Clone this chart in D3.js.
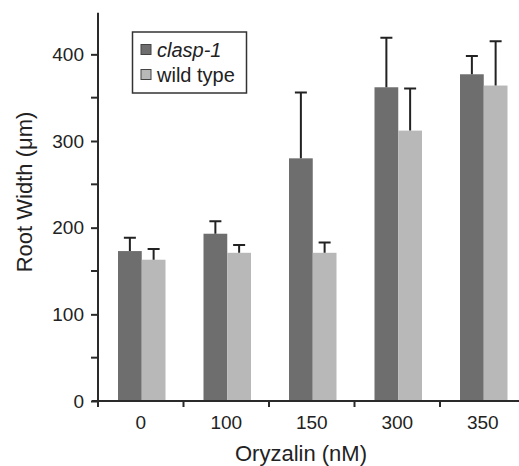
<!DOCTYPE html>
<html>
<head>
<meta charset="utf-8">
<script src="https://cdn.jsdelivr.net/npm/d3@7/dist/d3.min.js"></script>
<style>
  body { margin: 0; background: #fff; }
  svg { display: block; font-family: "Liberation Sans", Arial, sans-serif; }
</style>
</head>
<body>
<div id="chart"></div>
<script>
// chart data
var categories = ['0', '100', '150', '300', '350'];
var seriesNames = ['clasp-1', 'wild type'];
var claspValues = [173, 193, 280, 362, 377];
var claspErrors = [15.5, 14.5, 76, 57, 21];
var wildValues = [163, 171, 171, 312, 364];
var wildErrors = [12.5, 9, 12, 48.5, 51];
var yTicks = [0, 100, 200, 300, 400];

var seriesColors = ['#6e6e6e', '#b8b8b8'];

var data = categories.map(function(c, i) {
  return {
    cat: c,
    vals: [
      { key: seriesNames[0], value: claspValues[i], err: claspErrors[i] },
      { key: seriesNames[1], value: wildValues[i], err: wildErrors[i] }
    ]
  };
});

var width = 519, height = 466;
var svg = d3.select('#chart').append('svg')
  .attr('width', width)
  .attr('height', height);

// scales
var x = d3.scaleBand().domain(categories).range([98, 525.5]).padding(0);
var xInner = d3.scaleBand().domain(seriesNames).range([20, 67.5]).padding(0);
var y = d3.scaleLinear().domain([0, 450]).range([401, 11]);

// bars
var groups = svg.selectAll('.group')
  .data(data)
  .enter().append('g')
  .attr('class', 'group')
  .attr('transform', function(d) { return 'translate(' + x(d.cat) + ',0)'; });

groups.selectAll('rect')
  .data(function(d) { return d.vals; })
  .enter().append('rect')
  .attr('x', function(d) { return xInner(d.key); })
  .attr('width', xInner.bandwidth())
  .attr('y', function(d) { return y(d.value); })
  .attr('height', function(d) { return y(0) - y(d.value); })
  .attr('fill', function(d, i) { return seriesColors[i]; });

// error bars (upper only)
groups.selectAll('.err')
  .data(function(d) { return d.vals; })
  .enter().append('path')
  .attr('class', 'err')
  .attr('fill', 'none')
  .attr('stroke', '#222')
  .attr('stroke-width', 2)
  .attr('d', function(d) {
    var cx = xInner(d.key) + xInner.bandwidth() / 2;
    var top = y(d.value + d.err);
    return 'M' + cx + ',' + y(d.value) + 'V' + top + 'M' + (cx - 6) + ',' + top + 'H' + (cx + 6);
  });

// y-axis
var yAxis = svg.append('g')
  .attr('transform', 'translate(98,0)')
  .call(d3.axisLeft(y).tickValues(yTicks).tickSize(7).tickPadding(7));
// minor ticks
yAxis.selectAll('.minor')
  .data([50, 150, 250, 350])
  .enter().append('line')
  .attr('class', 'minor')
  .attr('x1', -7).attr('x2', 0)
  .attr('y1', function(d) { return y(d); })
  .attr('y2', function(d) { return y(d); });
yAxis.select('.domain').attr('d', 'M0,' + y(448) + 'V407');

// x-axis
var xAxis = svg.append('g')
  .attr('transform', 'translate(0,401)')
  .call(d3.axisBottom(x).tickSize(0).tickPadding(15));
xAxis.selectAll('.sep')
  .data(categories)
  .enter().append('line')
  .attr('class', 'sep')
  .attr('x1', function(d) { return x(d); })
  .attr('x2', function(d) { return x(d); })
  .attr('y1', 0).attr('y2', 6);
xAxis.select('.domain').attr('d', 'M92,0H525');

svg.selectAll('.domain, .tick line, .minor, .sep')
  .attr('stroke', '#2a2a2a')
  .attr('stroke-width', 2);
svg.selectAll('.tick text')
  .attr('font-size', 19)
  .attr('fill', '#222')
  .attr('font-family', '"Liberation Sans", Arial, sans-serif');

// axis titles
svg.append('text')
  .attr('transform', 'translate(32,192) rotate(-90)')
  .attr('text-anchor', 'middle')
  .attr('font-size', 22)
  .attr('fill', '#222')
  .text('Root Width (μm)');

svg.append('text')
  .attr('x', 301)
  .attr('y', 461)
  .attr('text-anchor', 'middle')
  .attr('font-size', 22)
  .attr('fill', '#222')
  .text('Oryzalin (nM)');

// legend
var legend = svg.append('g');
legend.append('rect')
  .attr('x', 132.5).attr('y', 32)
  .attr('width', 114).attr('height', 61)
  .attr('fill', '#fff')
  .attr('stroke', '#333')
  .attr('stroke-width', 1.5);

var items = legend.selectAll('.item')
  .data(seriesNames)
  .enter().append('g')
  .attr('transform', function(d, i) { return 'translate(141,' + (44.5 + i * 25) + ')'; });
items.append('rect')
  .attr('width', 10).attr('height', 10)
  .attr('fill', function(d, i) { return seriesColors[i]; })
  .attr('stroke', '#444')
  .attr('stroke-width', 1);
items.append('text')
  .attr('x', 16)
  .attr('y', 12)
  .attr('font-size', 20)
  .attr('fill', '#222')
  .attr('font-style', function(d, i) { return i === 0 ? 'italic' : 'normal'; })
  .text(function(d) { return d; });
</script>
</body>
</html>
